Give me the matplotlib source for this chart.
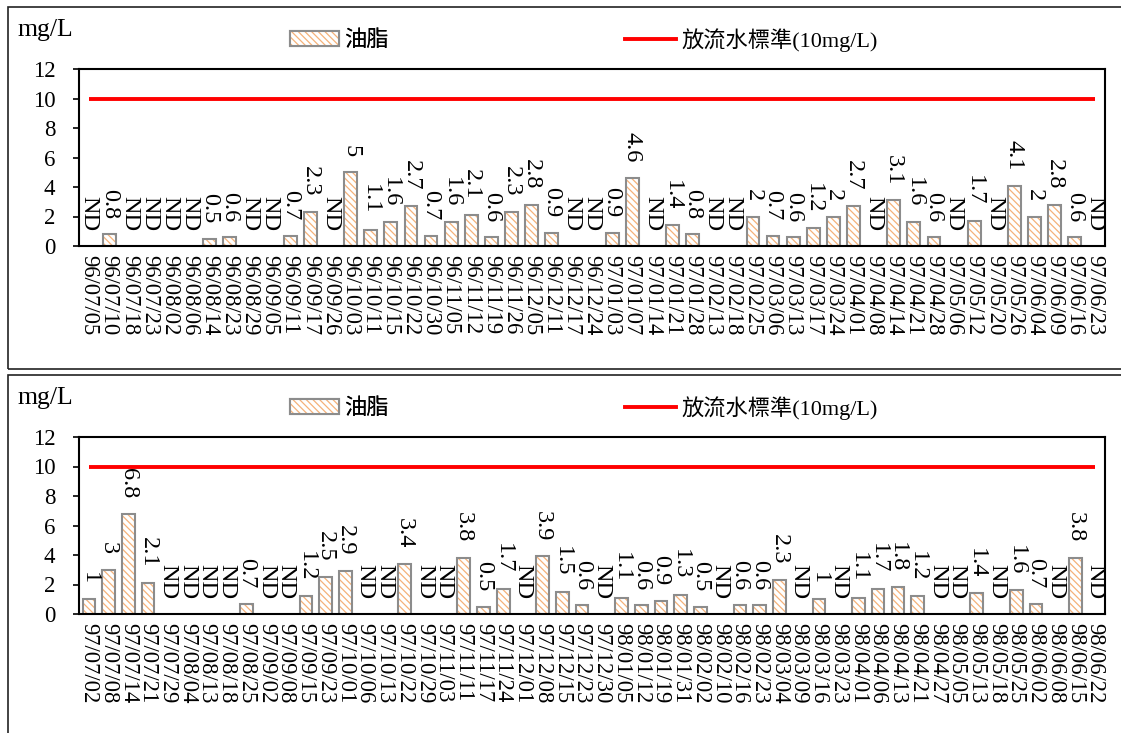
import numpy as np
import matplotlib.pyplot as plt
from matplotlib.patches import Rectangle, Patch

plt.rcParams['font.family'] = ['Liberation Serif', 'Noto Sans CJK TC']
plt.rcParams['hatch.linewidth'] = 0.9

ND = None

# 96/07 - 97/06
dates_1 = ['96/07/05', '96/07/10', '96/07/18', '96/07/23', '96/08/02', '96/08/06',
           '96/08/14', '96/08/23', '96/08/29', '96/09/05', '96/09/11', '96/09/17',
           '96/09/26', '96/10/03', '96/10/11', '96/10/15', '96/10/22', '96/10/30',
           '96/11/05', '96/11/12', '96/11/19', '96/11/26', '96/12/05', '96/12/11',
           '96/12/17', '96/12/24', '97/01/03', '97/01/07', '97/01/14', '97/01/21',
           '97/01/28', '97/02/13', '97/02/18', '97/02/25', '97/03/06', '97/03/13',
           '97/03/17', '97/03/24', '97/04/01', '97/04/08', '97/04/14', '97/04/21',
           '97/04/28', '97/05/06', '97/05/12', '97/05/20', '97/05/26', '97/06/04',
           '97/06/09', '97/06/16', '97/06/23']
oil_1 = [ND, 0.8, ND, ND, ND, ND,
         0.5, 0.6, ND, ND, 0.7, 2.3,
         ND, 5, 1.1, 1.6, 2.7, 0.7,
         1.6, 2.1, 0.6, 2.3, 2.8, 0.9,
         ND, ND, 0.9, 4.6, ND, 1.4,
         0.8, ND, ND, 2, 0.7, 0.6,
         1.2, 2, 2.7, ND, 3.1, 1.6,
         0.6, ND, 1.7, ND, 4.1, 2,
         2.8, 0.6, ND]

# 97/07 - 98/06
dates_2 = ['97/07/02', '97/07/08', '97/07/14', '97/07/21', '97/07/29', '97/08/04',
           '97/08/13', '97/08/18', '97/08/25', '97/09/02', '97/09/08', '97/09/15',
           '97/09/23', '97/10/01', '97/10/06', '97/10/13', '97/10/22', '97/10/29',
           '97/11/03', '97/11/11', '97/11/17', '97/11/24', '97/12/01', '97/12/08',
           '97/12/15', '97/12/23', '97/12/30', '98/01/05', '98/01/12', '98/01/19',
           '98/01/31', '98/02/02', '98/02/10', '98/02/16', '98/02/23', '98/03/04',
           '98/03/09', '98/03/16', '98/03/23', '98/04/01', '98/04/06', '98/04/13',
           '98/04/21', '98/04/27', '98/05/05', '98/05/13', '98/05/18', '98/05/25',
           '98/06/02', '98/06/08', '98/06/15', '98/06/22']
oil_2 = [1, 3, 6.8, 2.1, ND, ND,
         ND, ND, 0.7, ND, ND, 1.2,
         2.5, 2.9, ND, ND, 3.4, ND,
         ND, 3.8, 0.5, 1.7, ND, 3.9,
         1.5, 0.6, ND, 1.1, 0.6, 0.9,
         1.3, 0.5, ND, 0.6, 0.6, 2.3,
         ND, 1, ND, 1.1, 1.7, 1.8,
         1.2, ND, ND, 1.4, ND, 1.6,
         0.7, ND, 3.8, ND]

STANDARD = 10

HATCH = '#f5b27a'
EDGE = '#8c8c8c'
HATCH_PAT = '\\\\\\\\\\'

W, H = 1121, 733
fig = plt.figure(figsize=(W / 100, H / 100), dpi=100)


def px_box(x0, y0, x1, y1):
    return [x0 / W, 1 - y1 / H, (x1 - x0) / W, (y1 - y0) / H]


def draw_panel(dates, values, dy):
    # outer frame of the panel
    fig.add_artist(Rectangle((8 / W, 1 - (369 + dy) / H), 1.2, 362 / H,
                             transform=fig.transFigure, fill=False,
                             ec='#222222', lw=1.2, clip_on=False))

    ax = fig.add_axes(px_box(79, 69 + dy, 1105, 246 + dy))
    n = len(dates)
    x = np.arange(n)
    h = np.array([np.nan if v is None else v for v in values], dtype=float)

    ax.bar(x, h, width=0.64, color='white', edgecolor=HATCH, hatch=HATCH_PAT, linewidth=0)
    ax.bar(x, h, width=0.64, fill=False, edgecolor=EDGE, linewidth=1.5)
    ax.plot(x, np.full(n, STANDARD), color='red', lw=2.8, solid_capstyle='butt')

    for xi, v in zip(x, values):
        txt = 'ND' if v is None else f'{v:g}'
        ax.annotate(txt, (xi, 0 if v is None else v), xytext=(0, 11),
                    textcoords='offset points', rotation=270,
                    ha='center', va='bottom', fontsize=17.5)

    ax.set_xlim(-0.5, n - 0.5)
    ax.set_ylim(0, 12)
    ax.set_yticks(range(0, 13, 2))
    ax.set_xticks(x)
    ax.set_xticklabels(dates, rotation=270)
    ax.tick_params(axis='y', length=4, width=1.2, pad=13, labelsize=16.5)
    ax.tick_params(axis='x', length=0, pad=6.5, labelsize=16.3)
    for s in ax.spines.values():
        s.set_linewidth(1.5)

    fig.text(17 / W, 1 - (30 + dy) / H, 'mg/L', ha='left', va='center', fontsize=18.5)

    bar_handle = (Patch(facecolor='white', edgecolor=HATCH, hatch=HATCH_PAT, lw=0),
                  Patch(fill=False, edgecolor=EDGE, lw=1.5))
    leg1 = fig.legend([bar_handle], ['油脂'], loc='center left',
                      bbox_to_anchor=(290 / W, 1 - (41 + dy) / H),
                      frameon=False, borderpad=0, borderaxespad=0,
                      handlelength=2.2, handleheight=0.7, handletextpad=0.25,
                      fontsize=16)
    fig.add_artist(leg1)
    line_handle = plt.Line2D([], [], color='red', lw=2.8)
    fig.legend([line_handle], ['放流水標準(10mg/L)'], loc='center left',
               bbox_to_anchor=(625 / W, 1 - (40 + dy) / H),
               frameon=False, borderpad=0, borderaxespad=0,
               handlelength=2.3, handletextpad=0.25, fontsize=16)
    return ax


draw_panel(dates_1, oil_1, 0)
draw_panel(dates_2, oil_2, 368)

fig.savefig('out.png', dpi=100)
